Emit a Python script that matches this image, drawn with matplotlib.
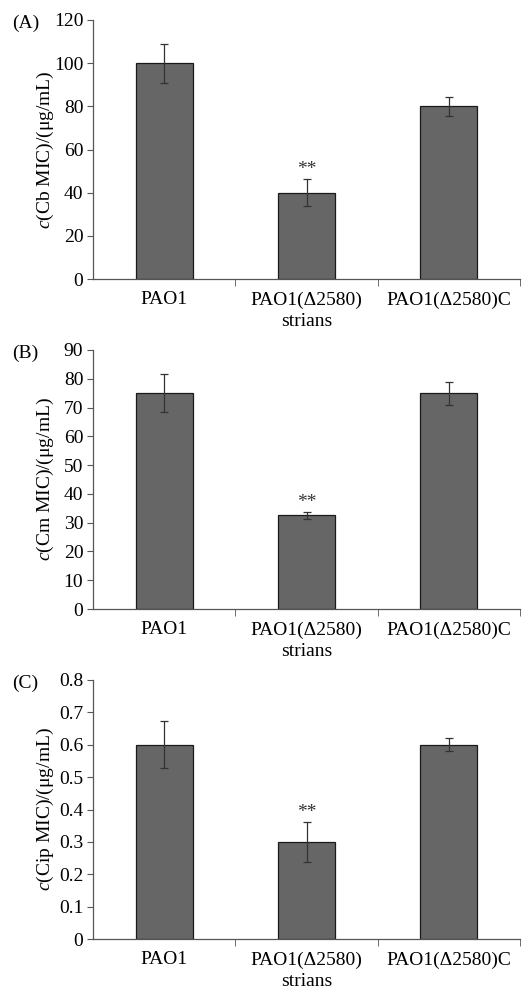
import matplotlib
matplotlib.use("Agg")
import matplotlib.pyplot as plt
import numpy as np

strains = ["PAO1", "PAO1(\u03942580)", "PAO1(\u03942580)C"]
cb_vals = [100, 40, 80]
cb_err = [9, 6.2, 4.4]
cm_vals = [75, 32.5, 75]
cm_err = [6.6, 1.2, 4.0]
cip_vals = [0.6, 0.3, 0.6]
cip_err = [0.072, 0.061, 0.02]
panel_labels = ["(A)", "(B)", "(C)"]
ylabels = ["Cb MIC", "Cm MIC", "Cip MIC"]
yticks_list = [np.arange(0, 121, 20), np.arange(0, 91, 10), np.round(np.arange(0, 0.81, 0.1), 1)]
ytick_fmt = [lambda v: f"{int(v)}", lambda v: f"{int(v)}", lambda v: "0" if v == 0 else f"{v:.1f}"]

plt.rcParams['font.family'] = ['Liberation Serif', 'DejaVu Serif']
plt.rcParams['mathtext.fontset'] = 'custom'
plt.rcParams['mathtext.it'] = 'Liberation Serif:italic'
plt.rcParams['mathtext.rm'] = 'Liberation Serif'

fig = plt.figure(figsize=(5.29, 9.92), dpi=100)
left = 93 / 529
width = (520 - 93) / 529
tops = [20, 350, 680]
h = 259
series = [(cb_vals, cb_err), (cm_vals, cm_err), (cip_vals, cip_err)]
axcol = '#555555'
for i, ((vals, errs), top) in enumerate(zip(series, tops)):
    bottom = 1 - (top + h) / 992
    ax = fig.add_axes([left, bottom, width, h / 992])
    x = np.arange(len(strains))
    ax.bar(x, vals, width=0.4, color='#666666', edgecolor='#1a1a1a', linewidth=0.9, zorder=2)
    ax.errorbar(x, vals, yerr=errs, fmt='none', ecolor='#333333', elinewidth=0.9, capsize=3, capthick=0.9, zorder=3)
    yt = yticks_list[i]
    ax.set_ylim(0, yt[-1])
    ax.set_yticks(yt)
    ax.set_yticklabels([ytick_fmt[i](v) for v in yt], fontsize=14)
    ax.set_xlim(-0.5, 2.5)
    ax.set_xticks(x)
    ax.set_xticklabels(strains, fontsize=14)
    ax.tick_params(axis='x', which='major', length=0, pad=9)
    ax.set_xticks([0.5, 1.5, 2.5], minor=True)
    ax.tick_params(axis='x', which='minor', length=5, direction='out', color=axcol)
    ax.tick_params(axis='y', length=4, direction='out', color=axcol, pad=3)
    for s in ['top', 'right']:
        ax.spines[s].set_visible(False)
    for s in ['left', 'bottom']:
        ax.spines[s].set_color(axcol)
        ax.spines[s].set_linewidth(0.9)
    ax.set_xlabel("strians", fontsize=14, labelpad=3)
    ax.text((45 - 93) / 427, 0.5, r"$\mathit{c}$(" + ylabels[i] + ")/(\u03bcg/mL)",
            transform=ax.transAxes, rotation=90, ha='center', va='center', fontsize=14)
    ax.annotate("**", xy=(1, vals[1] + errs[1]), xytext=(0, 1), textcoords='offset points',
                ha='center', va='bottom', fontsize=14, color='#333333')
    fig.text(12 / 529, 1 - (top + 3) / 992, panel_labels[i], fontsize=14, ha='left', va='center')

fig.savefig("out.png", dpi=100)
